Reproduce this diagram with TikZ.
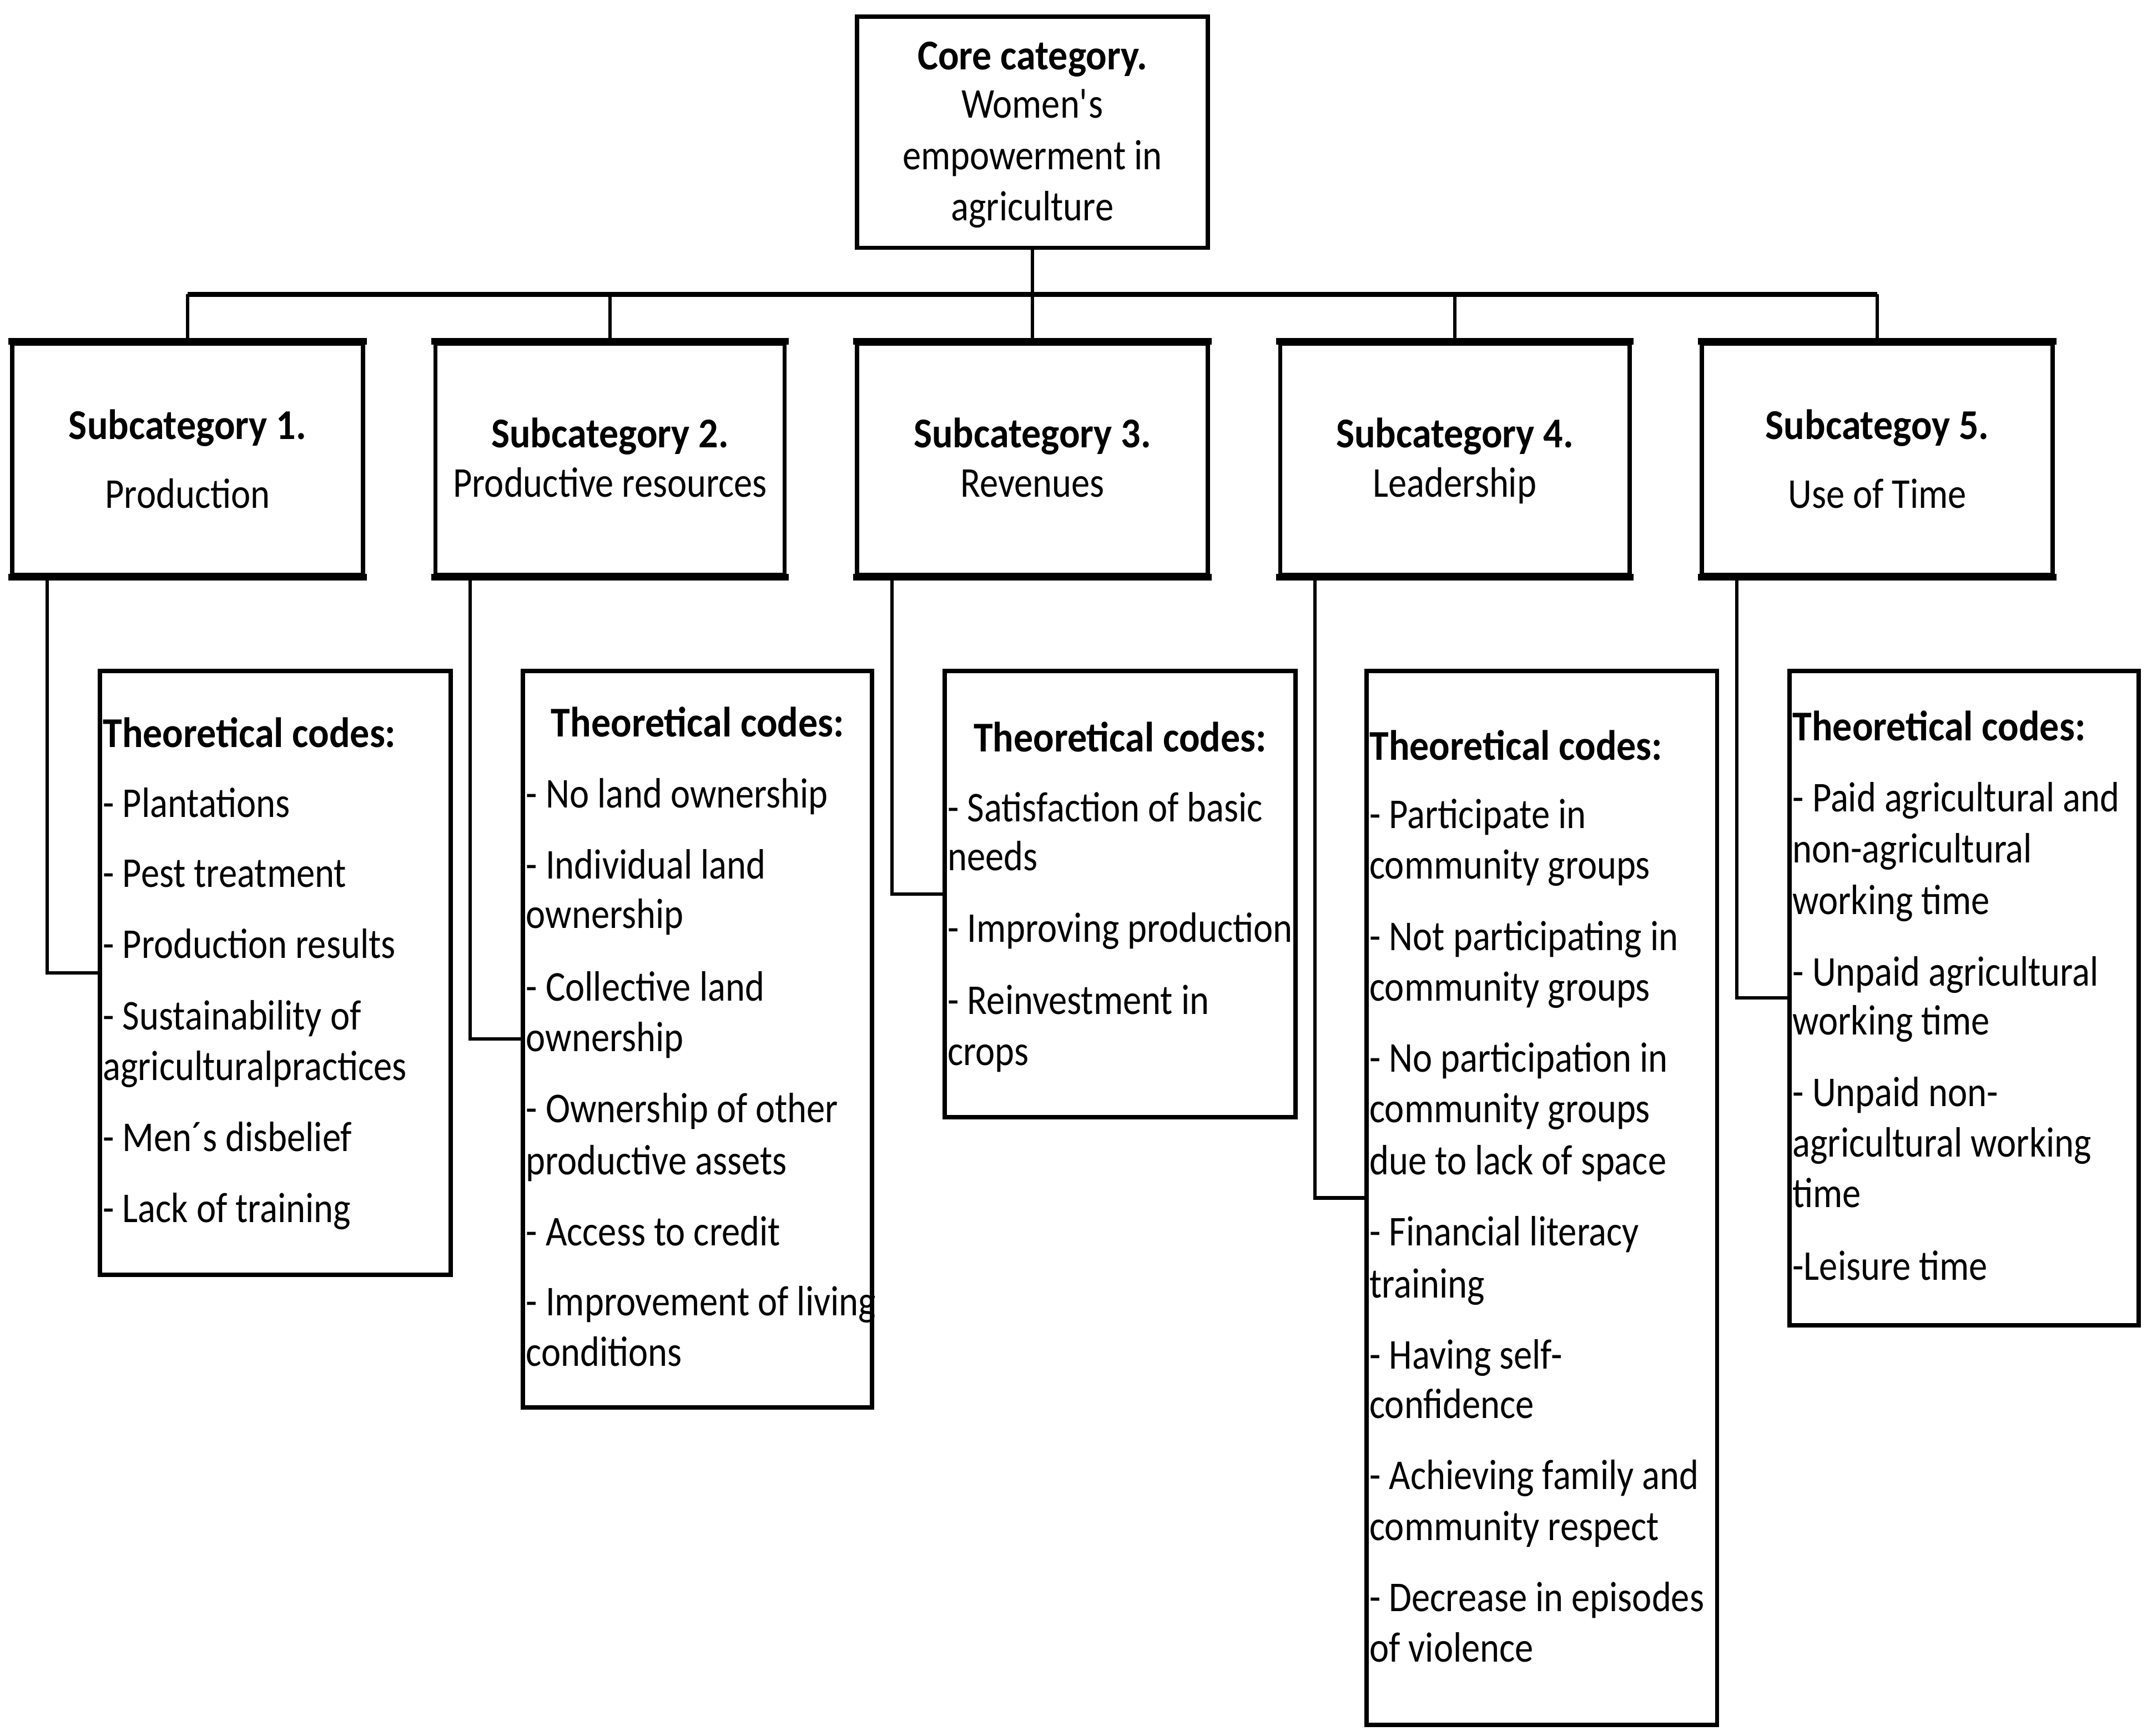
\documentclass[tikz,border=0pt]{standalone}
\usepackage{fontspec}
\setmainfont[FakeStretch=0.87, BoldFeatures={FakeStretch=0.915}]{Carlito}
\newcommand{\straightquote}{\XeTeXglyph\XeTeXcharglyph"0027\relax}
\begin{document}
\begin{tikzpicture}[x=1pt,y=-1pt,
  box/.style={draw, line width=3.2pt, inner sep=0pt, rectangle},
  conn/.style={line width=2.5pt},
  barline/.style={line width=3.6pt},
  edgeline/.style={line width=5pt, shorten <=-1.5pt, shorten >=-1.5pt},
  txt/.style={inner sep=0pt, font=\fontsize{31}{37}\selectfont},
  hd/.style={inner sep=0pt, font=\fontsize{31}{37}\selectfont\bfseries}]
\useasboundingbox (0,0) rectangle (1568,1268);

% core and subcategory boxes
\node[box, minimum width=256pt, minimum height=169pt] (core) at (754,96.5) {};
\node[box, minimum width=256pt, minimum height=169pt] (s1) at (137,335.5) {};
\node[box, minimum width=255pt, minimum height=169pt] (s2) at (445.5,335.5) {};
\node[box, minimum width=256pt, minimum height=169pt] (s3) at (754,335.5) {};
\node[box, minimum width=255pt, minimum height=169pt] (s4) at (1062.5,335.5) {};
\node[box, minimum width=256pt, minimum height=169pt] (s5) at (1371,335.5) {};
\foreach \s in {s1,s2,s3,s4,s5} {
  \draw[edgeline] (\s.north west) -- (\s.north east);
  \draw[edgeline] (\s.south west) -- (\s.south east);
}

% theoretical code boxes
\node[box, minimum width=256pt, minimum height=441pt] (c1) at (201,710.5) {};
\node[box, minimum width=255pt, minimum height=538pt] (c2) at (509.5,759) {};
\node[box, minimum width=256pt, minimum height=326pt] (c3) at (818,653) {};
\node[box, minimum width=256pt, minimum height=770pt] (c4) at (1126,875) {};
\node[box, minimum width=255pt, minimum height=478pt] (c5) at (1434.5,729) {};

% connectors
\coordinate (bar) at (754,215);
\draw[conn] (core.south) -- (bar);
\draw[barline] (s1.north |- bar) -- (s5.north |- bar);
\foreach \s in {s1,s2,s3,s4,s5}
  \draw[conn] (\s.north |- bar) -- (\s.north);
\foreach \i in {1,...,5}
  \draw[conn] ([xshift=27pt]s\i.south west) |- (c\i.west);

% core text
\node[hd, anchor=base] (core-t1) at (754,51) {Core category.};
\node[txt, anchor=base] (core-t2) at (754,86) {Women\straightquote s};
\node[txt, anchor=base] (core-t3) at (754,124) {empowerment in};
\node[txt, anchor=base] (core-t4) at (754,161) {agriculture};

% subcategory text
\node[hd, anchor=base] (s1-t1) at (137,321) {Subcategory 1.};
\node[txt, anchor=base] (s1-t2) at (137,371) {Production};
\node[hd, anchor=base] (s2-t1) at (445.5,327) {Subcategory 2.};
\node[txt, anchor=base] (s2-t2) at (445.5,363) {Productive resources};
\node[hd, anchor=base] (s3-t1) at (754,327) {Subcategory 3.};
\node[txt, anchor=base] (s3-t2) at (754,363) {Revenues};
\node[hd, anchor=base] (s4-t1) at (1062.5,327) {Subcategory 4.};
\node[txt, anchor=base] (s4-t2) at (1062.5,363) {Leadership};
\node[hd, anchor=base] (s5-t1) at (1371,321) {Subcategoy 5.};
\node[txt, anchor=base] (s5-t2) at (1371,371) {Use of Time};

% code box headings
\node[hd, anchor=base west] (c1-h) at (75,546) {Theoretical codes:};
\node[hd, anchor=base] (c2-h) at (509.5,538) {Theoretical codes:};
\node[hd, anchor=base] (c3-h) at (818,549) {Theoretical codes:};
\node[hd, anchor=base west] (c4-h) at (1000,555) {Theoretical codes:};
\node[hd, anchor=base west] (c5-h) at (1309,541) {Theoretical codes:};

% code lines
\foreach \y/\t [count=\k] in {597/{- Plantations}, 648/{- Pest treatment},
  700/{- Production results}, 752/{- Sustainability of},
  789/{agriculturalpractices}, 841/{- Men´s disbelief}, 893/{- Lack of training}}
  \node[txt, anchor=base west] (c1-\k) at (75,\y) {\t};

\foreach \y/\t [count=\k] in {590/{- No land ownership}, 642/{- Individual land},
  678/{ownership}, 731/{- Collective land}, 768/{ownership},
  820/{- Ownership of other}, 858/{productive assets}, 910/{- Access to credit},
  961/{- Improvement of living}, 998/{conditions}}
  \node[txt, anchor=base west] (c2-\k) at (384,\y) {\t};

\foreach \y/\t [count=\k] in {600/{- Satisfaction of basic}, 636/{needs},
  688/{- Improving production}, 741/{- Reinvestment in}, 778/{crops}}
  \node[txt, anchor=base west] (c3-\k) at (692,\y) {\t};

\foreach \y/\t [count=\k] in {605/{- Participate in}, 642/{community groups},
  694/{- Not participating in}, 731/{community groups},
  783/{- No participation in}, 820/{community groups}, 858/{due to lack of space},
  910/{- Financial literacy}, 948/{training}, 1000/{- Having self-},
  1036/{confidence}, 1088/{- Achieving family and}, 1125/{community respect},
  1177/{- Decrease in episodes}, 1214/{of violence}}
  \node[txt, anchor=base west] (c4-\k) at (1000,\y) {\t};

\foreach \y/\t [count=\k] in {593/{- Paid agricultural and}, 630/{non-agricultural},
  668/{working time}, 720/{- Unpaid agricultural}, 756/{working time},
  808/{- Unpaid non-}, 845/{agricultural working}, 882/{time}, 935/{-Leisure time}}
  \node[txt, anchor=base west] (c5-\k) at (1309,\y) {\t};
\end{tikzpicture}
\end{document}
